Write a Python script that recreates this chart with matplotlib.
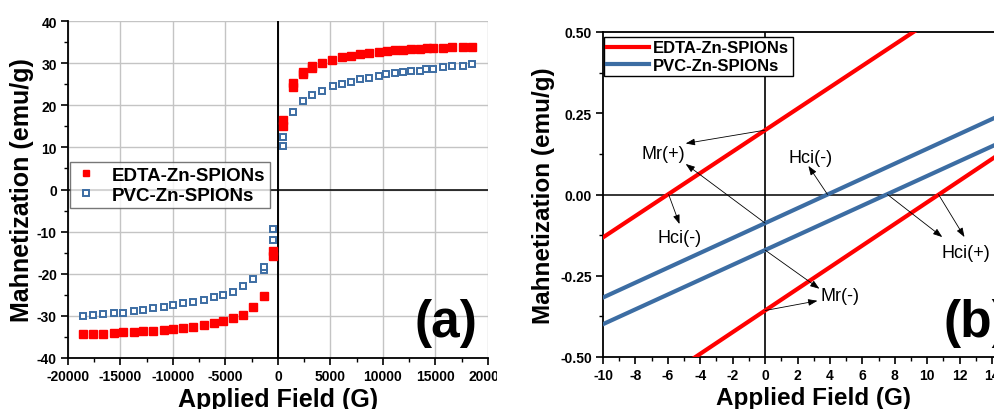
import matplotlib
matplotlib.use("Agg")
import matplotlib.pyplot as plt
from matplotlib.ticker import MultipleLocator
from matplotlib.patches import Rectangle

plt.rcParams['font.family'] = ['Liberation Sans', 'DejaVu Sans']
plt.rcParams['axes.unicode_minus'] = False

# ---- panel (a): M-H loop ----
edta_field = [-18540, -17590, -16640, -15620, -14730, -13710, -12830, -11870, -10860,
              -9970, -9020, -8060, -7050, -6100, -5210, -4320, -3300, -2350, -1330,
              -450, -450,
              450, 450, 1430, 1430, 2350, 2350, 3270, 3270, 4220, 5110, 6060, 6950,
              7800, 8700, 9650, 10400, 11150, 11900, 12700, 13500, 14150, 14800,
              15700, 16600, 17600, 18500]
edta_m = [-34.3, -34.3, -34.3, -34.1, -33.9, -33.8, -33.7, -33.5, -33.3,
          -33.1, -32.9, -32.6, -32.2, -31.7, -31.2, -30.6, -29.8, -27.9, -25.3,
          -14.6, -15.8,
          15.0, 16.6, 24.4, 25.2, 27.3, 27.8, 28.9, 29.2, 30.1, 30.8, 31.4, 31.8,
          32.1, 32.4, 32.6, 32.8, 33.0, 33.2, 33.3, 33.4, 33.5, 33.6,
          33.7, 33.8, 33.9, 33.9]

pvc_field = [-18540, -17590, -16640, -15620, -14730, -13710, -12830, -11870, -10860,
             -9970, -9020, -8060, -7050, -6100, -5210, -4320, -3300, -2350, -1330,
             -1330, -450, -450,
             450, 450, 1430, 2350, 3270, 4220, 5200, 6050, 6950, 7800, 8700, 9600,
             10300, 11100, 11900, 12700, 13500, 14100, 14800, 15700, 16600, 17600, 18500]
pvc_m = [-30.1, -29.8, -29.6, -29.3, -29.2, -28.8, -28.6, -28.2, -27.8,
         -27.5, -27.0, -26.7, -26.2, -25.6, -25.0, -24.3, -23.0, -21.3, -19.0,
         -18.4, -12.1, -9.4,
         10.3, 12.4, 18.3, 21.1, 22.5, 23.5, 24.5, 25.1, 25.6, 26.2, 26.5, 27.0,
         27.4, 27.6, 27.9, 28.1, 28.2, 28.5, 28.7, 29.0, 29.2, 29.4, 29.7]

# ---- panel (b): zoom around the origin (straight branches) ----
zoom_field = [-10, 16]
edta_up = [-0.132, 0.726]
edta_down = [-0.690, 0.176]
pvc_up = [-0.317, 0.278]
pvc_down = [-0.399, 0.194]

red = '#ff0000'
blue = '#3c6da3'

fig = plt.figure(figsize=(9.95, 4.10), dpi=100)

def style_ticks(ax, size):
    ax.tick_params(which='major', direction='out', length=5, width=1.2, labelsize=size, pad=3)
    ax.tick_params(which='minor', direction='out', length=3, width=1.0)
    for lab in ax.get_xticklabels() + ax.get_yticklabels():
        lab.set_fontweight('bold')

# (a)
ax1 = fig.add_axes([68 / 995, 1 - 359 / 410, 420 / 995, 337 / 410], zorder=0)
ax1.grid(True, color='#c4c4c4', lw=1.0)
ax1.set_axisbelow(True)
ax1.axhline(0, color='black', lw=1.1, zorder=1)
ax1.axvline(0, color='black', lw=1.4, zorder=1)
ax1.plot(edta_field, edta_m, 's', color=red, ms=5.8, mec=red, label='EDTA-Zn-SPIONs', zorder=3)
ax1.plot(pvc_field, pvc_m, 's', color=blue, mfc='white', ms=5.0, mew=1.4,
         label='PVC-Zn-SPIONs', zorder=3)
ax1.set_xlim(-20000, 20000)
ax1.set_ylim(-40, 40)
ax1.xaxis.set_major_locator(MultipleLocator(5000))
ax1.xaxis.set_minor_locator(MultipleLocator(2500))
ax1.yaxis.set_major_locator(MultipleLocator(10))
ax1.yaxis.set_minor_locator(MultipleLocator(5))
for s in ['top', 'right']:
    ax1.spines[s].set_visible(False)
for s in ['left', 'bottom']:
    ax1.spines[s].set_linewidth(1.3)
style_ticks(ax1, 10)
ax1.set_xlabel('Applied Field (G)', fontsize=18, fontweight='bold', labelpad=3)
ax1.set_ylabel('Mahnetization (emu/g)', fontsize=18, fontweight='bold', labelpad=2)
leg1 = ax1.legend(loc='upper left', bbox_to_anchor=(70 / 995, 1 - 163 / 410),
                  bbox_transform=fig.transFigure, borderaxespad=0, fancybox=False,
                  prop={'size': 13.5, 'weight': 'bold'}, handlelength=1.2,
                  handletextpad=0.8, borderpad=0.25, labelspacing=0.15, markerscale=0.8)
leg1.get_frame().set_edgecolor('#555555')
leg1.get_frame().set_linewidth(1.0)
fig.text(446 / 995, 1 - 323 / 410, '(a)', fontsize=37, fontweight='bold',
         ha='center', va='center')

# white strip: the right picture hides the end of the last tick label
fig.patches.append(Rectangle((497 / 995, 0), 0.1, 1, transform=fig.transFigure,
                             facecolor='white', edgecolor='none', zorder=1))

# (b)
ax2 = fig.add_axes([603 / 995, 1 - 358 / 410, 26 * 16.21 / 995, 325 / 410], zorder=2)
ax2.axhline(0, color='black', lw=1.1, zorder=1)
ax2.axvline(0, color='black', lw=1.2, zorder=1)
ax2.plot(zoom_field, edta_up, color=red, lw=3, label='EDTA-Zn-SPIONs', zorder=3)
ax2.plot(zoom_field, pvc_up, color=blue, lw=3, label='PVC-Zn-SPIONs', zorder=3)
ax2.plot(zoom_field, pvc_down, color=blue, lw=3, zorder=3)
ax2.plot(zoom_field, edta_down, color=red, lw=3, zorder=3)
ax2.set_xlim(-10, 16)
ax2.set_ylim(-0.5, 0.5)
ax2.xaxis.set_major_locator(MultipleLocator(2))
ax2.xaxis.set_minor_locator(MultipleLocator(1))
ax2.yaxis.set_major_locator(MultipleLocator(0.25))
ax2.yaxis.set_minor_locator(MultipleLocator(0.125))
ax2.yaxis.set_major_formatter(plt.FormatStrFormatter('%.2f'))
for s in ax2.spines.values():
    s.set_linewidth(1.3)
style_ticks(ax2, 10)
ax2.set_xlabel('Applied Field (G)', fontsize=17.5, fontweight='bold', labelpad=3)
ax2.set_ylabel('Mahnetization (emu/g)', fontsize=17.5, fontweight='bold', labelpad=4)
leg2 = ax2.legend(loc='upper left', bbox_to_anchor=(604 / 995, 1 - 38 / 410),
                  bbox_transform=fig.transFigure, borderaxespad=0, fancybox=False,
                  prop={'size': 12, 'weight': 'bold'}, handlelength=2.5,
                  handletextpad=0.25, borderpad=0.2, labelspacing=0.15,
                  framealpha=1)
leg2.get_frame().set_edgecolor('black')
leg2.get_frame().set_linewidth(1.0)

arrow = dict(arrowstyle='-|>,head_length=0.55,head_width=0.2', lw=0.6,
             color='black', shrinkA=0, shrinkB=0)
# (head, tail) pairs
arrows = [((-4.9, 0.157), (0, 0.198)),
          ((-4.9, 0.094), (0, -0.088)),
          ((3.35, -0.29), (0, -0.171)),
          ((3.23, -0.327), (0, -0.357)),
          ((-5.28, -0.091), (-5.95, 0)),
          ((2.67, 0.088), (3.85, 0)),
          ((10.93, -0.131), (7.55, 0)),
          ((12.3, -0.131), (10.7, 0))]
for head, tail in arrows:
    ax2.annotate('', xy=head, xytext=tail, arrowprops=arrow, zorder=4)
for txt, pos in [('Mr(+)', (-6.25, 0.125)), ('Mr(-)', (4.6, -0.312)),
                 ('Hci(-)', (-5.3, -0.131)), ('Hci(-)', (2.8, 0.115)),
                 ('Hci(+)', (12.4, -0.177))]:
    ax2.text(pos[0], pos[1], txt, fontsize=13, ha='center', va='center', zorder=5)
fig.text(976 / 995, 1 - 323 / 410, '(b)', fontsize=37, fontweight='bold',
         ha='center', va='center')

fig.savefig('out.png', dpi=100)
